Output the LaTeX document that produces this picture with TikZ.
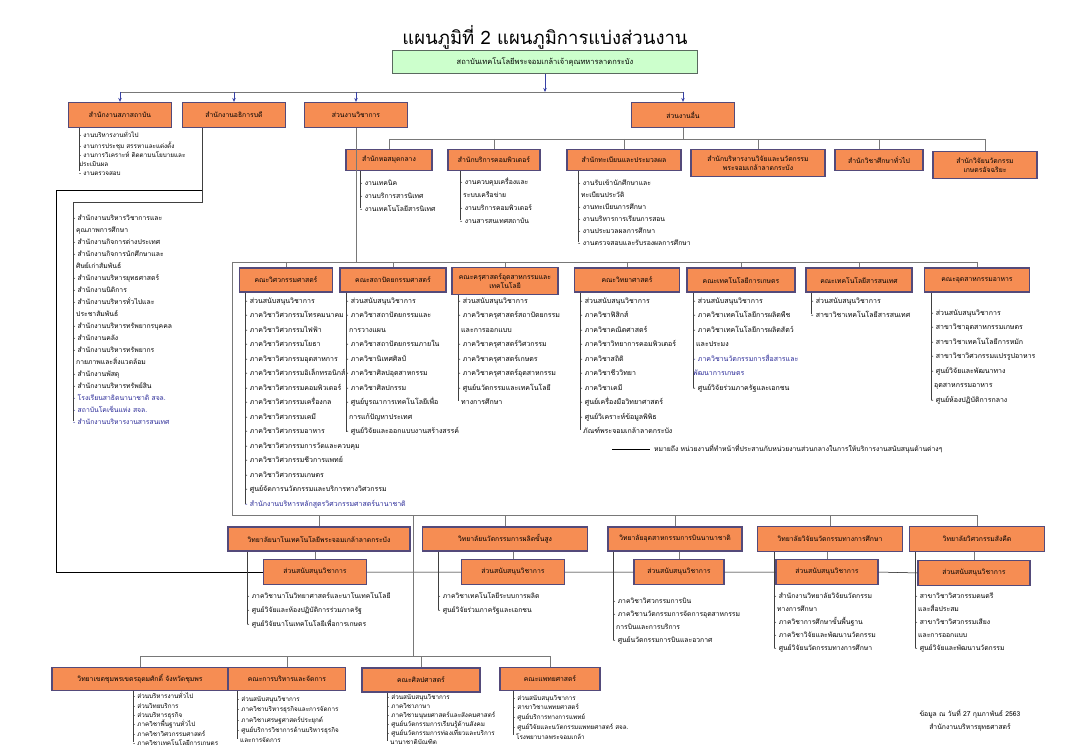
\documentclass[tikz,border=0pt]{standalone}
\usepackage{fontspec}
\newfontfamily\thaifont[Script=Thai]{Loma}
\usetikzlibrary{arrows.meta}

\definecolor{boxorange}{RGB}{246,141,83}
\definecolor{boxedge}{RGB}{84,74,122}
\definecolor{topgreen}{RGB}{204,255,204}
\definecolor{topedge}{RGB}{90,105,95}
\definecolor{linegray}{RGB}{120,120,120}
\definecolor{arrowblue}{RGB}{55,65,165}
\definecolor{itemblue}{RGB}{40,40,150}

\newcommand{\ind}{\hspace*{3pt}}

\tikzset{
  unit/.style={draw=boxedge, fill=boxorange, line width=1.2pt, inner sep=1pt, align=center,
    font=\thaifont\fontsize{6.8}{9}\selectfont},
  topbox/.style={draw=topedge, fill=topgreen, line width=1pt, align=center,
    font=\thaifont\fontsize{7.5}{9}\selectfont},
  items/.style={anchor=north west, align=left, inner sep=0pt,
    font=\thaifont\fontsize{7}{14.5}\selectfont},
  bus/.style={draw=linegray, line width=0.8pt},
  stem/.style={draw=black!75, line width=0.6pt},
  link/.style={draw=black, line width=0.5pt},
  arr/.style={-{Stealth[length=4pt,width=3.5pt]}, draw=arrowblue, line width=0.8pt},
}

\begin{document}
\begin{tikzpicture}[x=1pt,y=-1pt]
\useasboundingbox (0,0) rectangle (1088,751);

% title and institute
\node[font=\thaifont\fontsize{18.5}{22}\selectfont] (title) at (545,37) {แผนภูมิที่ 2 แผนภูมิการแบ่งส่วนงาน};
\node[topbox, minimum width=305pt, minimum height=23pt] (kmitl) at (545,62) {สถาบันเทคโนโลยีพระจอมเกล้าเจ้าคุณทหารลาดกระบัง};

% first level units
\node[unit, minimum width=103pt, minimum height=25pt] (sapha) at (120,115) {สำนักงานสภาสถาบัน};
\node[unit, minimum width=103pt, minimum height=25pt] (athikan) at (234,115) {สำนักงานอธิการบดี};
\node[unit, minimum width=103pt, minimum height=25pt] (wichakan) at (356,115) {ส่วนงานวิชาการ};
\node[unit, minimum width=103pt, minimum height=25pt] (uen) at (683,115) {ส่วนงานอื่น};

\coordinate (mainbus) at (545,92);
\draw[arr] (kmitl) -- (mainbus);
\draw[bus] (sapha.north |- mainbus) -- (uen.north |- mainbus);
\foreach \u in {sapha,athikan,wichakan,uen}
  \draw[arr] (\u.north |- mainbus) -- (\u.north);

% council office
\node[items, font=\thaifont\fontsize{6.3}{9}\selectfont] (saphalist) at (79,131) {\strut- งานบริหารงานทั่วไป\\- งานการประชุม สรรหาและแต่งตั้ง\\- งานการวิเคราะห์ ติดตามนโยบายและ\\ประเมินผล\\- งานตรวจสอบ};
\draw[stem] (sapha.south -| saphalist.west) -- ([yshift=4pt]saphalist.south west);

% president office
\node[items, font=\thaifont\fontsize{6.8}{12}\selectfont] (athlist) at (73,212) {\strut- สำนักงานบริหารวิชาการและ\\\ind คุณภาพการศึกษา\\- สำนักงานกิจการต่างประเทศ\\- สำนักงานกิจการนักศึกษาและ\\\ind ศิษย์เก่าสัมพันธ์\\- สำนักงานบริหารยุทธศาสตร์\\- สำนักงานนิติการ\\- สำนักงานบริหารทั่วไปและ\\\ind ประชาสัมพันธ์\\- สำนักงานบริหารทรัพยากรบุคคล\\- สำนักงานคลัง\\- สำนักงานบริหารทรัพยากร\\\ind กายภาพและสิ่งแวดล้อม\\- สำนักงานพัสดุ\\- สำนักงานบริหารทรัพย์สิน\\{\color{itemblue}- โรงเรียนสาธิตนานาชาติ สจล.}\\{\color{itemblue}- สถาบันโคเซ็นแห่ง สจล.}\\{\color{itemblue}- สำนักงานบริหารงานสารสนเทศ}};
\coordinate (athturn) at (202,202);
\draw[stem] (athikan.south -| athturn) -- (athturn) -- (athturn -| athlist.west) -- ([yshift=4pt]athlist.south west);

% other units
\node[unit, minimum width=86pt, minimum height=21pt] (hosamut) at (389,160) {สำนักหอสมุดกลาง};
\node[unit, minimum width=92pt, minimum height=21pt] (computer) at (494,160) {สำนักบริการคอมพิวเตอร์};
\node[unit, minimum width=114pt, minimum height=21pt] (tabien) at (624,160) {สำนักทะเบียนและประมวลผล};
\node[unit, minimum width=134pt, minimum height=27pt] (research) at (758,163) {สำนักบริหารงานวิจัยและนวัตกรรม\\พระจอมเกล้าลาดกระบัง};
\node[unit, minimum width=88pt, minimum height=21pt] (genedu) at (879,160) {สำนักวิชาศึกษาทั่วไป};
\node[unit, minimum width=104pt, minimum height=27pt] (innov) at (985,165) {สำนักวิจัยนวัตกรรม\\เกษตรอัจฉริยะ};

\coordinate (otherbus) at (683,139);
\draw[bus] (uen) -- (otherbus);
\draw[bus] (hosamut.north |- otherbus) -- (innov.north |- otherbus);
\foreach \u in {hosamut,computer,tabien,research,genedu,innov}
  \draw[bus] (\u.north |- otherbus) -- (\u.north);

\node[items, font=\thaifont\fontsize{6.8}{13}\selectfont] (hosamutlist) at (360,176) {\strut- งานเทคนิค\\- งานบริการสารนิเทศ\\- งานเทคโนโลยีสารนิเทศ};
\node[items, font=\thaifont\fontsize{6.8}{13}\selectfont] (computerlist) at (460,175) {\strut- งานควบคุมเครื่องและ\\\ind ระบบเครือข่าย\\- งานบริการคอมพิวเตอร์\\- งานสารสนเทศสถาบัน};
\node[items, font=\thaifont\fontsize{6.8}{12}\selectfont] (tabienlist) at (578,177) {\strut- งานรับเข้านักศึกษาและ\\\ind ทะเบียนประวัติ\\- งานทะเบียนการศึกษา\\- งานบริหารการเรียนการสอน\\- งานประมวลผลการศึกษา\\- งานตรวจสอบและรับรองผลการศึกษา};
\foreach \u in {hosamut,computer,tabien}
  \draw[stem] (\u.south -| \u list.west) -- ([yshift=4pt]\u list.south west);

% faculties
\node[unit, minimum width=93pt, minimum height=24pt] (eng) at (286,280) {คณะวิศวกรรมศาสตร์};
\node[unit, minimum width=106pt, minimum height=24pt] (arch) at (393,280) {คณะสถาปัตยกรรมศาสตร์};
\node[unit, minimum width=106pt, minimum height=27pt] (edu) at (505,281) {คณะครุศาสตร์อุตสาหกรรมและ\\เทคโนโลยี};
\node[unit, minimum width=105pt, minimum height=24pt] (sci) at (627,280) {คณะวิทยาศาสตร์};
\node[unit, minimum width=108pt, minimum height=24pt] (agri) at (741,280) {คณะเทคโนโลยีการเกษตร};
\node[unit, minimum width=106pt, minimum height=24pt] (it) at (859,280) {คณะเทคโนโลยีสารสนเทศ};
\node[unit, minimum width=105pt, minimum height=24pt] (food) at (977,280) {คณะอุตสาหกรรมอาหาร};

\coordinate (facbus) at (232,262);
\draw[bus] (wichakan) -- (wichakan |- facbus);
\draw[bus] (facbus) -- (food.north |- facbus);
\foreach \u in {eng,arch,edu,sci,agri,it,food}
  \draw[bus] (\u.north |- facbus) -- (\u.north);

\node[items] (englist) at (245,293) {\strut- ส่วนสนับสนุนวิชาการ\\- ภาควิชาวิศวกรรมโทรคมนาคม\\- ภาควิชาวิศวกรรมไฟฟ้า\\- ภาควิชาวิศวกรรมโยธา\\- ภาควิชาวิศวกรรมอุตสาหการ\\- ภาควิชาวิศวกรรมอิเล็กทรอนิกส์\\- ภาควิชาวิศวกรรมคอมพิวเตอร์\\- ภาควิชาวิศวกรรมเครื่องกล\\- ภาควิชาวิศวกรรมเคมี\\- ภาควิชาวิศวกรรมอาหาร\\- ภาควิชาวิศวกรรมการวัดและควบคุม\\- ภาควิชาวิศวกรรมชีวการแพทย์\\- ภาควิชาวิศวกรรมเกษตร\\- ศูนย์จัดการนวัตกรรมและบริการทางวิศวกรรม\\{\color{itemblue}- สำนักงานบริหารหลักสูตรวิศวกรรมศาสตร์นานาชาติ}};
\node[items] (archlist) at (346,293) {\strut- ส่วนสนับสนุนวิชาการ\\- ภาควิชาสถาปัตยกรรมและ\\\ind การวางแผน\\- ภาควิชาสถาปัตยกรรมภายใน\\- ภาควิชานิเทศศิลป์\\- ภาควิชาศิลปอุตสาหกรรม\\- ภาควิชาศิลปกรรม\\- ศูนย์บูรณาการเทคโนโลยีเพื่อ\\\ind การแก้ปัญหาประเทศ\\- ศูนย์วิจัยและออกแบบงานสร้างสรรค์};
\node[items] (edulist) at (458,293) {\strut- ส่วนสนับสนุนวิชาการ\\- ภาควิชาครุศาสตร์สถาปัตยกรรม\\\ind และการออกแบบ\\- ภาควิชาครุศาสตร์วิศวกรรม\\- ภาควิชาครุศาสตร์เกษตร\\- ภาควิชาครุศาสตร์อุตสาหกรรม\\- ศูนย์นวัตกรรมและเทคโนโลยี\\\ind ทางการศึกษา};
\node[items] (scilist) at (580,293) {\strut- ส่วนสนับสนุนวิชาการ\\- ภาควิชาฟิสิกส์\\- ภาควิชาคณิตศาสตร์\\- ภาควิชาวิทยาการคอมพิวเตอร์\\- ภาควิชาสถิติ\\- ภาควิชาชีววิทยา\\- ภาควิชาเคมี\\- ศูนย์เครื่องมือวิทยาศาสตร์\\- ศูนย์วิเคราะห์ข้อมูลพิพิธ\\\ind ภัณฑ์พระจอมเกล้าลาดกระบัง};
\node[items] (agrilist) at (693,293) {\strut- ส่วนสนับสนุนวิชาการ\\- ภาควิชาเทคโนโลยีการผลิตพืช\\- ภาควิชาเทคโนโลยีการผลิตสัตว์\\\ind และประมง\\{\color{itemblue}- ภาควิชานวัตกรรมการสื่อสารและ}\\{\color{itemblue}พัฒนาการเกษตร}\\- ศูนย์วิจัยร่วมภาครัฐและเอกชน};
\node[items] (itlist) at (811,293) {\strut- ส่วนสนับสนุนวิชาการ\\- สาขาวิชาเทคโนโลยีสารสนเทศ};
\node[items] (foodlist) at (931,305) {\strut- ส่วนสนับสนุนวิชาการ\\- สาขาวิชาอุตสาหกรรมเกษตร\\- สาขาวิชาเทคโนโลยีการหมัก\\- สาขาวิชาวิศวกรรมแปรรูปอาหาร\\- ศูนย์วิจัยและพัฒนาทาง\\\ind อุตสาหกรรมอาหาร\\- ศูนย์ห้องปฏิบัติการกลาง};
\foreach \u in {eng,arch,edu,sci,agri,it,food}
  \draw[stem] (\u.south -| \u list.west) -- ([yshift=4pt]\u list.south west);

% legend
\coordinate (legendstart) at (612,449);
\node[anchor=west, inner sep=0pt, font=\thaifont\fontsize{6.8}{9}\selectfont] (legend) at (654,449) {หมายถึง หน่วยงานที่ทำหน้าที่ประสานกับหน่วยงานส่วนกลางในการให้บริการงานสนับสนุนด้านต่างๆ};
\draw[link] (legendstart) -- ([xshift=-4pt]legend.west);

% colleges
\node[unit, minimum width=182pt, minimum height=24pt] (nano) at (319,539) {วิทยาลัยนาโนเทคโนโลยีพระจอมเกล้าลาดกระบัง};
\node[unit, minimum width=165pt, minimum height=24pt] (adv) at (505,539) {วิทยาลัยนวัตกรรมการผลิตขั้นสูง};
\node[unit, minimum width=134pt, minimum height=24pt] (avi) at (675,539) {วิทยาลัยอุตสาหกรรมการบินนานาชาติ};
\node[unit, minimum width=145pt, minimum height=25pt] (edures) at (830,539) {วิทยาลัยวิจัยนวัตกรรมทางการศึกษา};
\node[unit, minimum width=135pt, minimum height=25pt] (music) at (977,539) {วิทยาลัยวิศวกรรมสังคีต};

\coordinate (colbus) at (232,515);
\draw[bus] (facbus) -- (colbus);
\draw[bus] (colbus) -- (music.north |- colbus);
\foreach \u in {nano,adv,avi,edures,music}
  \draw[bus] (\u.north |- colbus) -- (\u.north);

% support units of colleges
\node[unit, minimum width=103pt, minimum height=25pt] (nanosup) at (315,572) {ส่วนสนับสนุนวิชาการ};
\node[unit, minimum width=103pt, minimum height=25pt] (advsup) at (513,572) {ส่วนสนับสนุนวิชาการ};
\node[unit, minimum width=90pt, minimum height=25pt] (avisup) at (679,572) {ส่วนสนับสนุนวิชาการ};
\node[unit, minimum width=102pt, minimum height=25pt] (eduressup) at (827,572) {ส่วนสนับสนุนวิชาการ};
\node[unit, minimum width=112pt, minimum height=25pt] (musicsup) at (974,573) {ส่วนสนับสนุนวิชาการ};
\foreach \u in {nano,adv,avi,edures,music}
  \draw[bus] (\u.south -| \u sup) -- (\u sup.north);

\coordinate (supstart) at (202,190);
\coordinate (supcorner) at (56,190);
\draw[link] (supstart) -- (supcorner) -- (supcorner |- nanosup.west) -- (nanosup.west);
\draw[link] (nanosup.east) -- (advsup.west) (advsup.east) -- (avisup.west)
  (avisup.east) -- (eduressup.west) (eduressup.east) -- (musicsup.west);

\node[items, font=\thaifont\fontsize{6.8}{14}\selectfont] (nanolist) at (247,588) {\strut- ภาควิชานาโนวิทยาศาสตร์และนาโนเทคโนโลยี\\- ศูนย์วิจัยและห้องปฏิบัติการร่วมภาครัฐ\\- ศูนย์วิจัยนาโนเทคโนโลยีเพื่อการเกษตร};
\node[items, font=\thaifont\fontsize{6.8}{14}\selectfont] (advlist) at (438,588) {\strut- ภาควิชาเทคโนโลยีระบบการผลิต\\- ศูนย์วิจัยร่วมภาครัฐและเอกชน};
\node[items, font=\thaifont\fontsize{6.8}{13}\selectfont] (avilist) at (613,594) {\strut- ภาควิชาวิศวกรรมการบิน\\- ภาควิชานวัตกรรมการจัดการอุตสาหกรรม\\\ind การบินและการบริการ\\- ศูนย์นวัตกรรมการบินและอวกาศ};
\node[items, font=\thaifont\fontsize{6.8}{13}\selectfont] (edureslist) at (774,589) {\strut- สำนักงานวิทยาลัยวิจัยนวัตกรรม\\\ind ทางการศึกษา\\- ภาควิชาการศึกษาขั้นพื้นฐาน\\- ภาควิชาวิจัยและพัฒนานวัตกรรม\\- ศูนย์วิจัยนวัตกรรมทางการศึกษา};
\node[items, font=\thaifont\fontsize{6.8}{13}\selectfont] (musiclist) at (915,589) {\strut- สาขาวิชาวิศวกรรมดนตรี\\\ind และสื่อประสม\\- สาขาวิชาวิศวกรรมเสียง\\\ind และการออกแบบ\\- ศูนย์วิจัยและพัฒนานวัตกรรม};
\foreach \u in {nano,adv,avi,edures,music}
  \draw[stem] (\u.south -| \u list.west) -- ([yshift=4pt]\u list.south west);

% bottom row
\node[unit, minimum width=176pt, minimum height=23pt] (chumphon) at (140,679) {วิทยาเขตชุมพรเขตรอุดมศักดิ์ จังหวัดชุมพร};
\node[unit, minimum width=117pt, minimum height=23pt] (mgmt) at (287,679) {คณะการบริหารและจัดการ};
\node[unit, minimum width=118pt, minimum height=24pt] (libarts) at (421,680) {คณะศิลปศาสตร์};
\node[unit, minimum width=100pt, minimum height=23pt] (med) at (550,679) {คณะแพทยศาสตร์};

\coordinate (botbus) at (413,656);
\draw[bus] (colbus -| botbus) -- (botbus);
\draw[bus] (chumphon.north |- botbus) -- (med.north |- botbus);
\foreach \u in {chumphon,mgmt,libarts,med}
  \draw[bus] (\u.north |- botbus) -- (\u.north);

\node[items, font=\thaifont\fontsize{6.3}{9.4}\selectfont] (chumphonlist) at (133,692) {\strut- ส่วนบริหารงานทั่วไป\\- ส่วนวิทยบริการ\\- ส่วนบริหารธุรกิจ\\- ภาควิชาพื้นฐานทั่วไป\\- ภาควิชาวิศวกรรมศาสตร์\\- ภาควิชาเทคโนโลยีการเกษตร};
\node[items, font=\thaifont\fontsize{6.3}{10.3}\selectfont] (mgmtlist) at (237,694) {\strut- ส่วนสนับสนุนวิชาการ\\- ภาควิชาบริหารธุรกิจและการจัดการ\\- ภาควิชาเศรษฐศาสตร์ประยุกต์\\- ศูนย์บริการวิชาการด้านบริหารธุรกิจ\\\ind และการจัดการ};
\node[items, font=\thaifont\fontsize{6.3}{9}\selectfont] (libartslist) at (387,693) {\strut- ส่วนสนับสนุนวิชาการ\\- ภาควิชาภาษา\\- ภาควิชามนุษยศาสตร์และสังคมศาสตร์\\- ศูนย์นวัตกรรมการเรียนรู้ด้านสังคม\\- ศูนย์นวัตกรรมการท่องเที่ยวและบริการ\\\ind นานาชาติบัณฑิต};
\node[items, font=\thaifont\fontsize{6.3}{9.8}\selectfont] (medlist) at (513,693) {\strut- ส่วนสนับสนุนวิชาการ\\- สาขาวิชาแพทยศาสตร์\\- ศูนย์บริการทางการแพทย์\\- ศูนย์วิจัยและนวัตกรรมแพทยศาสตร์ สจล.\\\ind โรงพยาบาลพระจอมเกล้า};
\foreach \u in {chumphon,mgmt,libarts,med}
  \draw[stem] (\u.south -| \u list.west) -- ([yshift=4pt]\u list.south west);

% source note
\node[align=center, font=\thaifont\fontsize{6.8}{13}\selectfont] (source) at (970,720) {ข้อมูล ณ วันที่ 27 กุมภาพันธ์ 2563\\สำนักงานบริหารยุทธศาสตร์};
\end{tikzpicture}
\end{document}
